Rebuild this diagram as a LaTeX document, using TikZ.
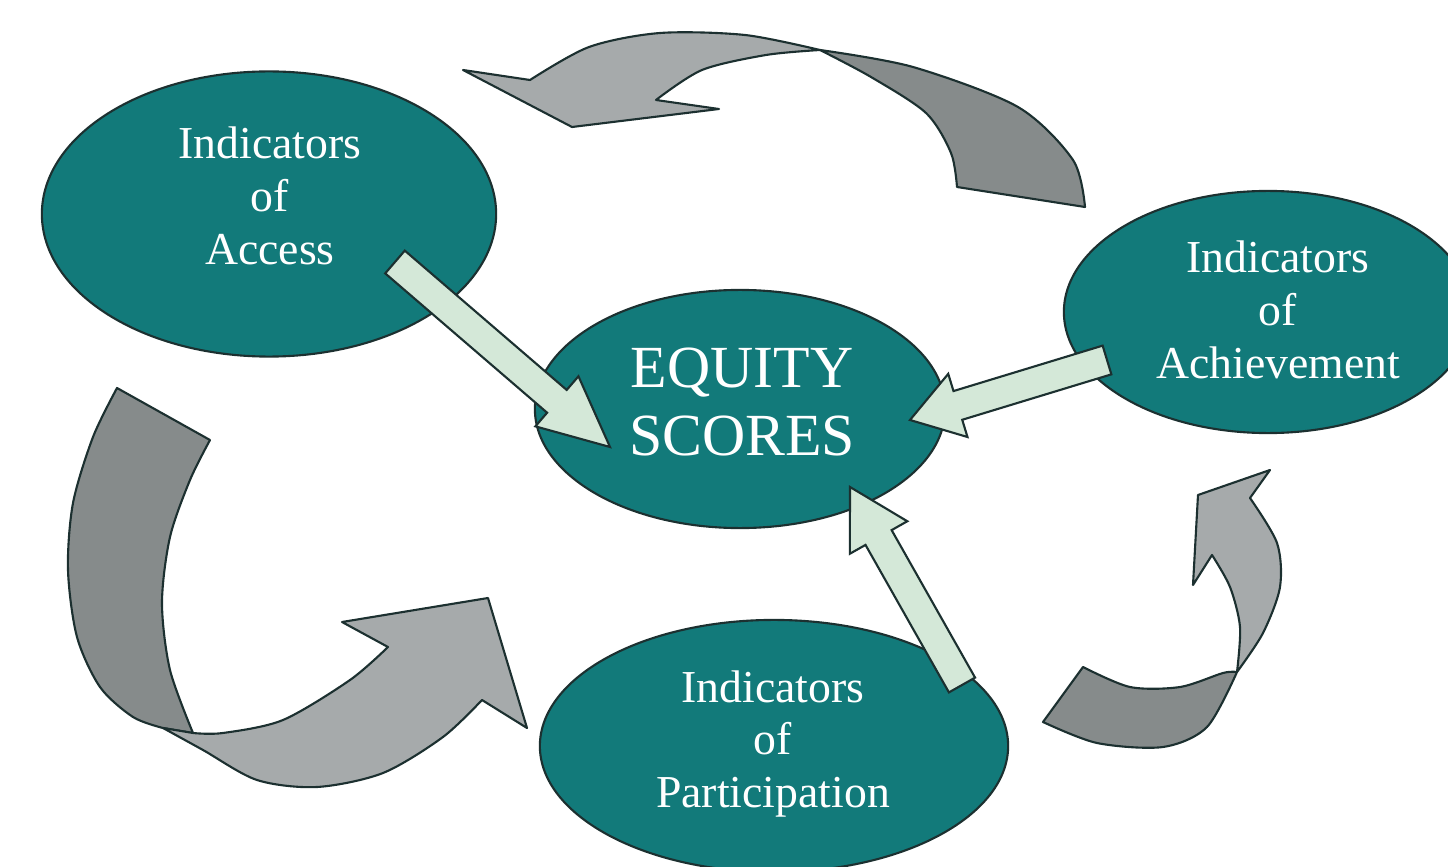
\documentclass[tikz,border=0pt]{standalone}
\usepackage{fontspec}
\setmainfont{Liberation Serif}
\usetikzlibrary{shapes.geometric, calc}

\definecolor{ovalteal}{RGB}{18,122,122}
\definecolor{edgeline}{RGB}{28,48,48}
\definecolor{ribbonlight}{RGB}{166,170,171}
\definecolor{ribbondark}{RGB}{134,139,139}
\definecolor{mint}{RGB}{212,232,216}

\tikzset{
  oval/.style={ellipse, draw=edgeline, line width=0.6pt, fill=ovalteal, inner sep=0pt},
  ovaltext/.style={text=white, align=center, inner sep=0pt, font=\fontsize{13}{15}\selectfont},
  ribbon/.style={draw=edgeline, line width=0.6pt, fill=ribbonlight, line join=round},
  ribbonback/.style={draw=edgeline, line width=0.6pt, fill=ribbondark, line join=round},
  fat/.style={draw=edgeline, line width=0.6pt, fill=mint}
}

% block arrow from #2 to #3, head length #1
\newcommand{\blockarrow}[3][0.6cm]{%
  \coordinate (ba-neck) at ($(#3)!#1!(#2)$);
  \draw[fat] ($(#2)!0.15cm!90:(#3)$) -- ($(ba-neck)!0.15cm!90:(#3)$)
    -- ($(ba-neck)!0.33cm!90:(#3)$) -- (#3)
    -- ($(ba-neck)!0.33cm!-90:(#3)$) -- ($(ba-neck)!0.15cm!-90:(#3)$)
    -- ($(#2)!0.15cm!-90:(#3)$) -- cycle;
}

\begin{document}
\begin{tikzpicture}[x=0.01cm, y=-0.01cm]
  \useasboundingbox (0,0) rectangle (1448,867);

  % the four ovals
  \node[oval, minimum width=4.54cm, minimum height=2.85cm] (access) at (269,214) {};
  \node[oval, minimum width=4.10cm, minimum height=2.38cm] (equity) at (740,409) {};
  \node[oval, minimum width=4.08cm, minimum height=2.42cm] (achieve) at (1268,312) {};
  \node[oval, minimum width=4.68cm, minimum height=2.52cm] (partic) at (774,746) {};

  \node[ovaltext] (accessText) at (270,196) {Indicators\\of\\Access};
  \node[ovaltext, font=\fontsize{17}{19.5}\selectfont] (equityText) at (742,402) {EQUITY\\SCORES};
  \node[ovaltext] (achieveText) at (1278,310) {Indicators\\of\\Achievement};
  \node[ovaltext] (particText) at (773,744) {Indicators\\of\\Participation};

  % ends of the block arrows
  \coordinate (accTail) at (395,262);
  \coordinate (accTip) at (610,447);
  \coordinate (achTail) at (1107,360);
  \coordinate (achTip) at (910,420);
  \coordinate (parTail) at (962,685);
  \coordinate (parTip) at (850,487);

  \blockarrow[0.7cm]{accTail}{accTip}
  \blockarrow[0.5cm]{achTail}{achTip}
  \blockarrow[0.58cm]{parTail}{parTip}

  % achievement -> access, over the top
  \draw[ribbonback] plot[smooth] coordinates {(820,50) (871,77) (926,113) (951,153) (957,187)}
    -- (1085,207) -- plot[smooth] coordinates {(1085,207) (1073,160) (1018,107) (913,67) (820,50)} -- cycle;
  \draw[ribbon] (463,70) -- (572,127) -- (719,109) -- (656,100)
    -- plot[smooth] coordinates {(656,100) (702,70) (766,55) (820,50)}
    -- plot[smooth] coordinates {(820,50) (745,35) (660,33) (589,47) (530,80)} -- cycle;

  % access -> participation, down the left side
  \draw[ribbonback] (117,388) -- (210,440)
    -- plot[smooth] coordinates {(210,440) (190,480) (170,537) (162,603) (170,670) (193,733)}
    -- (163,728)
    -- plot[smooth] coordinates {(163,728) (133,717) (100,687) (77,637) (68,570) (73,503) (93,437) (117,388)} -- cycle;
  \draw[ribbon] plot[smooth] coordinates {(163,728) (203,750) (257,780) (317,787) (383,773) (443,737) (482,700)}
    -- (527,728) -- (488,598) -- (342,622) -- (388,647)
    -- plot[smooth] coordinates {(388,647) (350,680) (283,720) (223,733) (193,733)} -- cycle;

  % participation -> achievement, bottom right
  \draw[ribbonback] (1043,722) -- (1083,667)
    -- plot[smooth] coordinates {(1083,667) (1130,687) (1180,687) (1223,673) (1237,672)}
    -- plot[smooth] coordinates {(1237,672) (1207,727) (1163,747) (1097,743) (1043,722)} -- cycle;
  \draw[ribbon] plot[smooth] coordinates {(1237,672) (1263,633) (1280,587) (1277,543) (1250,498)}
    -- (1270,470) -- (1198,495) -- (1193,585) -- (1212,555)
    -- plot[smooth] coordinates {(1212,555) (1230,587) (1240,627) (1237,672)} -- cycle;
\end{tikzpicture}
\end{document}
